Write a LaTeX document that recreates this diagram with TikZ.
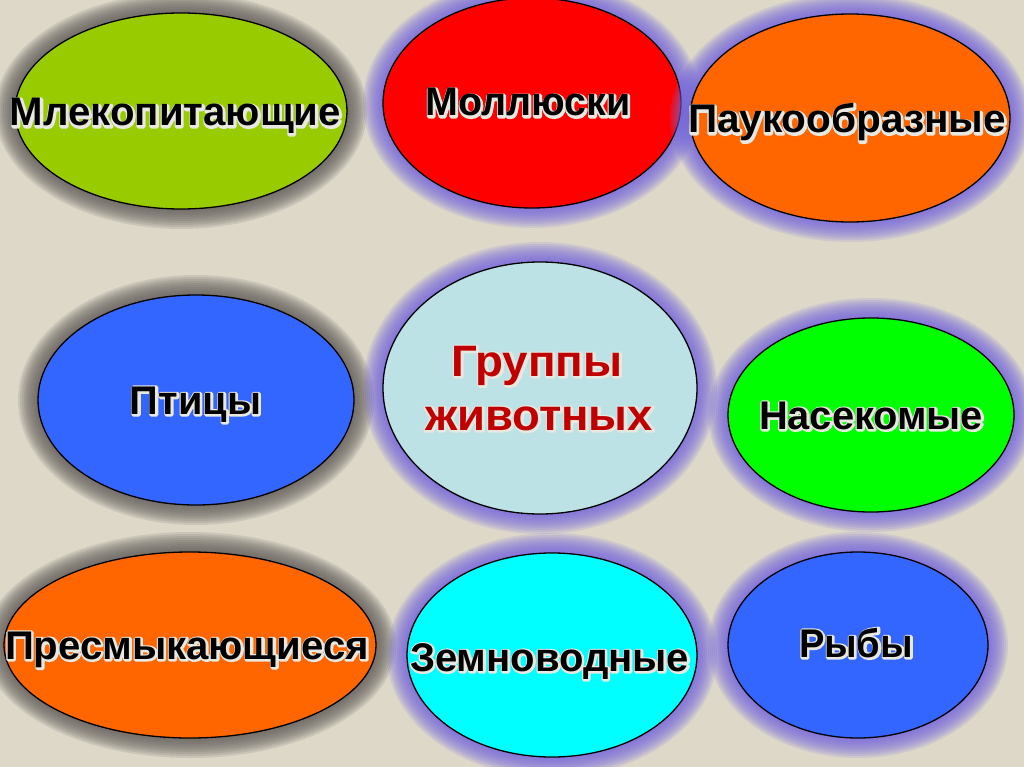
\documentclass[tikz,border=0pt]{standalone}
\usepackage{graphicx}
\usepackage{fontspec}
\setmainfont{Liberation Sans}
\usetikzlibrary{shapes.geometric}
\definecolor{bgcol}{RGB}{222,216,201}
\definecolor{glowgray}{RGB}{95,90,88}
\definecolor{glowpurple}{RGB}{115,102,222}
\definecolor{halocol}{RGB}{232,232,225}
\definecolor{cmlek}{RGB}{153,204,0}
\definecolor{cmoll}{RGB}{255,0,0}
\definecolor{corange}{RGB}{255,102,0}
\definecolor{cblue}{RGB}{51,102,255}
\definecolor{cgrup}{RGB}{188,226,230}
\definecolor{cnasek}{RGB}{0,255,0}
\definecolor{czemn}{RGB}{0,255,255}
\definecolor{cred}{RGB}{192,0,0}
\newcommand\mybubble[7]{%
  \foreach \g in {20,18,...,2}{\fill[#6, opacity=0.15] (#2,#3) ellipse [x radius={#4pt+\g pt}, y radius={#5pt+\g pt}];}
  \node[bubblebox, fill=#7, minimum width={2*#4pt}, minimum height={2*#5pt}] (#1) at (#2,#3) {};
}
\newcommand\myhalo[6]{%
  \node[lbl, text=halocol] at (#2+0.6,#3+0.8) {\special{pdf:literal direct 2 Tr 3.8 w 1 J 1 j 0.91 0.91 0.88 RG}\resizebox{#4pt}{\height}{#6}\special{pdf:literal direct 0 Tr}};
  \node[lbl, text=#5] (#1) at (#2,#3) {\resizebox{#4pt}{\height}{#6}};
}
\begin{document}
\begin{tikzpicture}[x=1pt,y=-1pt,
  bubblebox/.style={ellipse, draw=black, line width=1.3pt, inner sep=0pt, outer sep=0pt},
  lbl/.style={inner sep=0pt, anchor=base, font=\fontsize{40}{44}\selectfont\bfseries},
]
\fill[bgcol] (0,0) rectangle (1024,767);
\useasboundingbox (0,0) rectangle (1024,767);

\mybubble{mlek}{181}{111}{166}{98}{glowgray}{cmlek}
\mybubble{moll}{532}{103}{149}{105}{glowpurple}{cmoll}
\mybubble{pauk}{850}{118}{160}{104}{glowpurple}{corange}
\mybubble{ptic}{196}{400}{158}{105}{glowgray}{cblue}
\mybubble{grup}{540}{388}{157}{126}{glowpurple}{cgrup}
\mybubble{nasek}{871}{415}{143}{97}{glowpurple}{cnasek}
\mybubble{presm}{190}{645}{186}{93}{glowgray}{corange}
\mybubble{zemn}{552}{655}{145}{102}{glowpurple}{czemn}
\mybubble{ryby}{858}{645}{130}{93}{glowpurple}{cblue}

\myhalo{tmlek}{175.5}{126}{331}{black}{Млекопитающие}
\myhalo{tmoll}{528}{116}{205}{black}{Моллюски}
\myhalo{tpauk}{847}{133}{318}{black}{Паукообразные}
\myhalo{tptic}{195.5}{414}{131}{black}{Птицы}
\myhalo{tgrup}{537}{376}{171}{cred}{\fontsize{44}{48}\selectfont Группы}
\myhalo{tzhiv}{539}{430}{228}{cred}{\fontsize{44}{48}\selectfont животных}
\myhalo{tnasek}{871}{429}{224}{black}{Насекомые}
\myhalo{tpresm}{187}{659}{364}{black}{Пресмыкающиеся}
\myhalo{tzemn}{549.5}{671}{279}{black}{Земноводные}
\myhalo{tryby}{856}{657}{114}{black}{Рыбы}
\end{tikzpicture}
\end{document}
